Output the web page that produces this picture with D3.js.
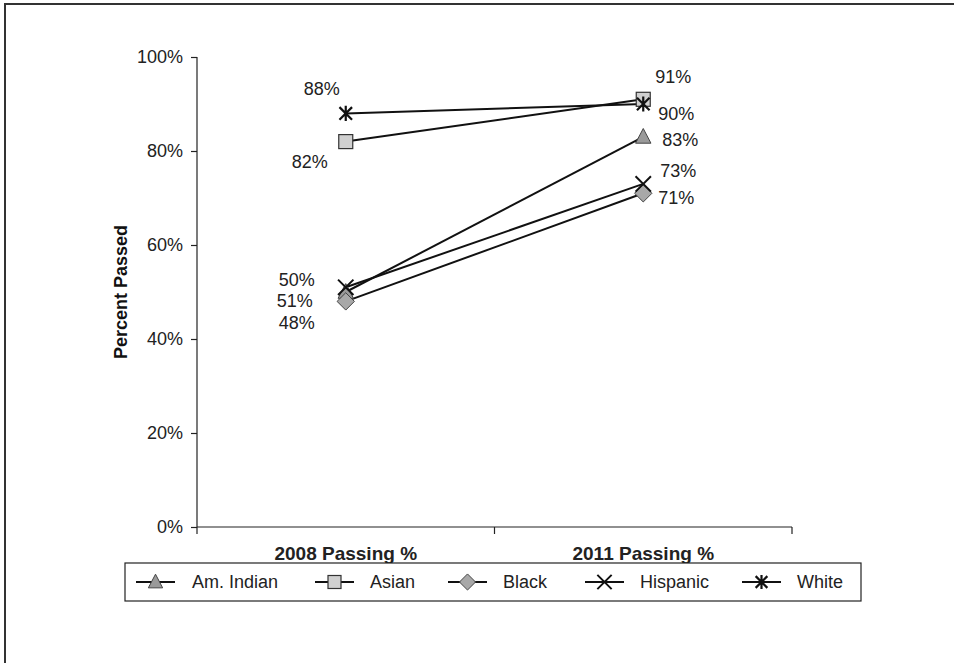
<!DOCTYPE html>
<html>
<head>
<meta charset="utf-8">
<script src="https://cdn.jsdelivr.net/npm/d3@7/dist/d3.min.js"></script>
<style>
  html, body { margin: 0; padding: 0; background: #fff; }
  svg { display: block; font-family: "Liberation Sans", Arial, sans-serif; }
</style>
</head>
<body>
<svg id="chart" width="954" height="663"></svg>
<script>
// Passing rates by group, 2008 vs 2011
const categories = ["2008 Passing %", "2011 Passing %"];
const seriesNames = ["Am. Indian", "Asian", "Black", "Hispanic", "White"];
const amIndian = [50, 83];
const asian = [82, 91];
const black = [48, 71];
const hispanic = [51, 73];
const white = [88, 90];
const yTicks = [0, 20, 40, 60, 80, 100];

const seriesValues = [amIndian, asian, black, hispanic, white];

// Marker styling and data-label offsets (dx, dy) per series and category
const markerStyle = [
  { type: "triangle", fill: "#9a9a9a" },
  { type: "square", fill: "#d0d0d0" },
  { type: "diamond", fill: "#a8a8a8" },
  { type: "x", fill: "none" },
  { type: "star", fill: "none" }
];
const labelOffsets = [
  [[-49, -12], [37, 3]],
  [[-36, 20], [30, -22]],
  [[-49, 22], [33, 5]],
  [[-51, 14], [35, -13]],
  [[-24, -24], [33, 10]]
];

const svg = d3.select("#chart");
const margin = { left: 197, right: 162, top: 57, bottom: 136 };
const W = 954, H = 663;
const FONT = "Liberation Sans, Arial, sans-serif";

// outer frame
svg.append("path")
  .attr("d", `M5,${H + 5} L5,4 L${W + 5},4`)
  .attr("fill", "none").attr("stroke", "#333").attr("stroke-width", 2);

const x0 = margin.left, x1 = W - margin.right;
const y0 = H - margin.bottom, y1 = margin.top;

const x = d3.scaleBand().domain(categories).range([x0, x1]);
const y = d3.scaleLinear().domain([0, 100]).range([y0, y1]);

// y axis
const yAxis = svg.append("g").attr("transform", `translate(${x0},0)`)
  .call(d3.axisLeft(y).tickValues(yTicks).tickSize(6).tickPadding(8).tickFormat(d => d + "%"));
yAxis.select(".domain").attr("d", `M0,${y1}V${y0}`).attr("stroke", "#222").attr("stroke-width", 1.2);
yAxis.selectAll(".tick line").attr("stroke", "#222").attr("stroke-width", 1.2);
yAxis.selectAll(".tick text").attr("font-size", 18).attr("fill", "#222").attr("font-family", FONT);

// x axis
const xAxis = svg.append("g").attr("transform", `translate(0,${y0})`)
  .call(d3.axisBottom(x).tickSize(0).tickPadding(20));
xAxis.select(".domain").attr("d", `M${x0},0H${x1}`).attr("stroke", "#222").attr("stroke-width", 1.2);
xAxis.selectAll(".tick text").attr("font-size", 19).attr("font-weight", "bold").attr("fill", "#222")
  .attr("font-family", FONT);
// boundary ticks between categories
const bounds = [x0, x0 + x.bandwidth(), x1];
xAxis.selectAll(".bound").data(bounds).join("line").attr("class", "bound")
  .attr("x1", d => d).attr("x2", d => d).attr("y1", 0).attr("y2", 7)
  .attr("stroke", "#222").attr("stroke-width", 1.2);

// y axis title
svg.append("text")
  .attr("transform", `translate(127,${(y0 + y1) / 2}) rotate(-90)`)
  .attr("text-anchor", "middle").attr("font-size", 18).attr("font-weight", "bold")
  .attr("fill", "#111").text("Percent Passed");

const cx = c => x(c) + x.bandwidth() / 2;

function drawMarker(g, type, fill, px, py, s) {
  if (type === "triangle") {
    g.append("path").attr("d", `M${px},${py - s * 0.6} L${px + s * 0.55},${py + s * 0.45} L${px - s * 0.55},${py + s * 0.45} Z`)
      .attr("fill", fill).attr("stroke", "#444").attr("stroke-width", 1);
  } else if (type === "square") {
    g.append("rect").attr("x", px - s / 2).attr("y", py - s / 2).attr("width", s).attr("height", s)
      .attr("fill", fill).attr("stroke", "#333").attr("stroke-width", 1.2);
  } else if (type === "diamond") {
    const r = s * 0.62;
    g.append("path").attr("d", `M${px},${py - r} L${px + r},${py} L${px},${py + r} L${px - r},${py} Z`)
      .attr("fill", fill).attr("stroke", "#444").attr("stroke-width", 1);
  } else if (type === "x") {
    const r = s * 0.55;
    g.append("path").attr("d", `M${px - r},${py - r} L${px + r},${py + r} M${px + r},${py - r} L${px - r},${py + r}`)
      .attr("stroke", "#111").attr("stroke-width", 2);
  } else if (type === "star") {
    const r = s * 0.45;
    g.append("path").attr("d", `M${px - r},${py - r} L${px + r},${py + r} M${px + r},${py - r} L${px - r},${py + r} M${px},${py - r * 1.2} L${px},${py + r * 1.2}`)
      .attr("stroke", "#111").attr("stroke-width", 2.2);
  }
}

// lines, markers and data labels
const plot = svg.append("g");
const line = d3.line().x((d, i) => cx(categories[i])).y(d => y(d));
seriesValues.forEach((vals) => {
  plot.append("path").datum(vals).attr("d", line)
    .attr("fill", "none").attr("stroke", "#111").attr("stroke-width", 2);
});
seriesValues.forEach((vals, si) => {
  vals.forEach((v, ci) => {
    drawMarker(plot, markerStyle[si].type, markerStyle[si].fill, cx(categories[ci]), y(v), 14);
  });
});
seriesValues.forEach((vals, si) => {
  vals.forEach((v, ci) => {
    const [dx, dy] = labelOffsets[si][ci];
    plot.append("text")
      .attr("x", cx(categories[ci]) + dx).attr("y", y(v) + dy)
      .attr("text-anchor", "middle").attr("dominant-baseline", "central")
      .attr("font-size", 18).attr("fill", "#222").text(v + "%");
  });
});

// legend
const legend = svg.append("g");
legend.append("rect").attr("x", 125).attr("y", 563).attr("width", 736).attr("height", 38)
  .attr("fill", "#fff").attr("stroke", "#222").attr("stroke-width", 1.2);
const legendX = [136, 315, 448, 585, 742];
const legendText = [192, 370, 503, 640, 797];
seriesNames.forEach((name, si) => {
  const lx = legendX[si], ly = 582;
  legend.append("line").attr("x1", lx).attr("x2", lx + 39).attr("y1", ly).attr("y2", ly)
    .attr("stroke", "#111").attr("stroke-width", 2);
  drawMarker(legend, markerStyle[si].type, markerStyle[si].fill, lx + 19.5, ly, 13);
  legend.append("text").attr("x", legendText[si]).attr("y", ly).attr("dominant-baseline", "central")
    .attr("font-size", 18).attr("fill", "#222").text(name);
});
</script>
</body>
</html>
